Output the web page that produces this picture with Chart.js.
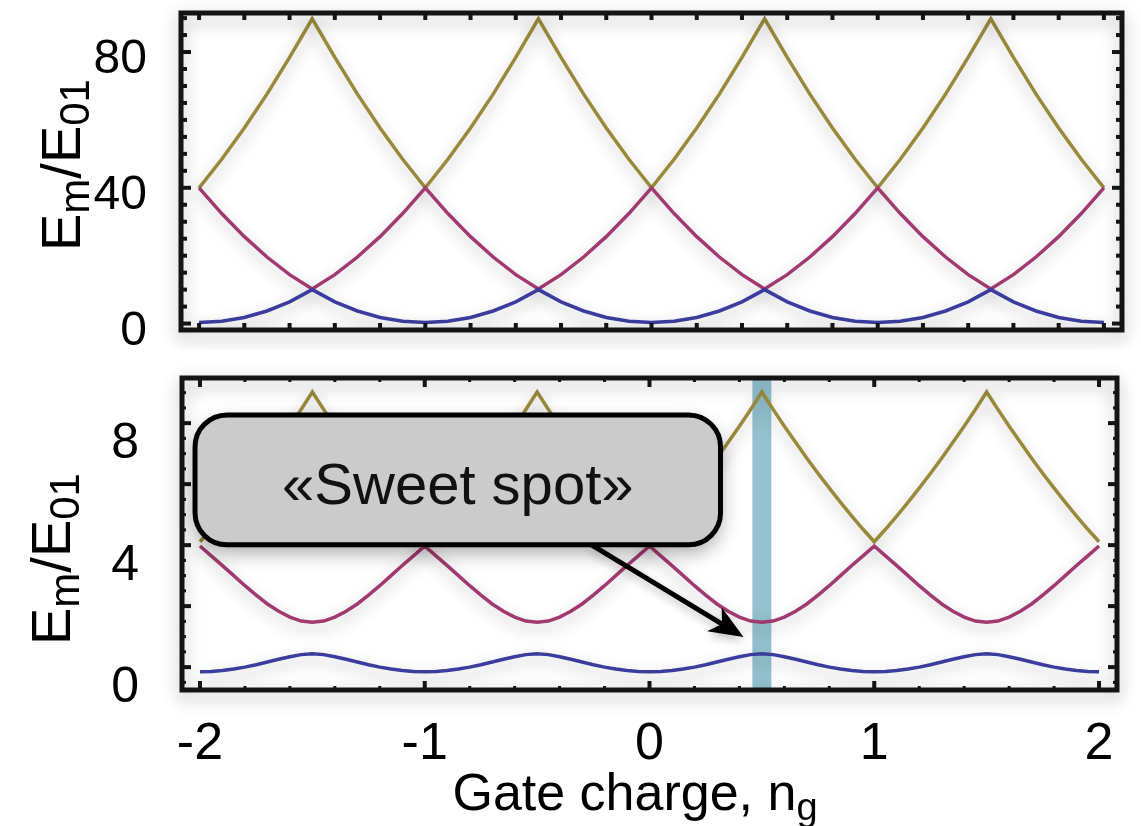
<!DOCTYPE html>
<html>
<head>
<meta charset="utf-8">
<script src="https://cdn.jsdelivr.net/npm/chart.js@4.4.1/dist/chart.umd.min.js"></script>
<style>
  html, body { margin: 0; padding: 0; background: #fff; }
  #wrap { position: relative; width: 1141px; height: 826px; }
  #top { position: absolute; left: 0; top: 0; }
  #bottom { position: absolute; left: 0; top: 350px; }
</style>
</head>
<body>
<div id="wrap">
  <canvas id="top" width="1141" height="350"></canvas>
  <canvas id="bottom" width="1141" height="476"></canvas>
</div>
<script>
// gate charge samples (top panel every 0.1, bottom panel every 0.05)
const ngCoarse = [-2, -1.9, -1.8, -1.7, -1.6, -1.5, -1.4, -1.3, -1.2, -1.1,
  -1, -0.9, -0.8, -0.7, -0.6, -0.5, -0.4, -0.3, -0.2, -0.1,
  0, 0.1, 0.2, 0.3, 0.4, 0.5, 0.6, 0.7, 0.8, 0.9,
  1, 1.1, 1.2, 1.3, 1.4, 1.5, 1.6, 1.7, 1.8, 1.9, 2];

// top panel: charge regime, E_m/E01
const topLevel0 = [0.3, 0.7, 1.8, 3.7, 6.4, 10.0, 6.4, 3.7, 1.8, 0.7,
  0.3, 0.7, 1.8, 3.7, 6.4, 10.0, 6.4, 3.7, 1.8, 0.7,
  0.3, 0.7, 1.8, 3.7, 6.4, 10.0, 6.4, 3.7, 1.8, 0.7,
  0.3, 0.7, 1.8, 3.7, 6.4, 10.0, 6.4, 3.7, 1.8, 0.7, 0.3];
const topLevel1 = [40, 32.4, 25.6, 19.6, 14.4, 10.2, 14.4, 19.6, 25.6, 32.4,
  40, 32.4, 25.6, 19.6, 14.4, 10.2, 14.4, 19.6, 25.6, 32.4,
  40, 32.4, 25.6, 19.6, 14.4, 10.2, 14.4, 19.6, 25.6, 32.4,
  40, 32.4, 25.6, 19.6, 14.4, 10.2, 14.4, 19.6, 25.6, 32.4, 40];
const topLevel2 = [40, 48.4, 57.6, 67.6, 78.4, 89.8, 78.4, 67.6, 57.6, 48.4,
  40, 48.4, 57.6, 67.6, 78.4, 89.8, 78.4, 67.6, 57.6, 48.4,
  40, 48.4, 57.6, 67.6, 78.4, 89.8, 78.4, 67.6, 57.6, 48.4,
  40, 48.4, 57.6, 67.6, 78.4, 89.8, 78.4, 67.6, 57.6, 48.4, 40];

const ngFine = [-2, -1.95, -1.9, -1.85, -1.8, -1.75, -1.7, -1.65, -1.6, -1.55,
  -1.5, -1.45, -1.4, -1.35, -1.3, -1.25, -1.2, -1.15, -1.1, -1.05,
  -1, -0.95, -0.9, -0.85, -0.8, -0.75, -0.7, -0.65, -0.6, -0.55,
  -0.5, -0.45, -0.4, -0.35, -0.3, -0.25, -0.2, -0.15, -0.1, -0.05,
  0, 0.05, 0.1, 0.15, 0.2, 0.25, 0.3, 0.35, 0.4, 0.45,
  0.5, 0.55, 0.6, 0.65, 0.7, 0.75, 0.8, 0.85, 0.9, 0.95,
  1, 1.05, 1.1, 1.15, 1.2, 1.25, 1.3, 1.35, 1.4, 1.45,
  1.5, 1.55, 1.6, 1.65, 1.7, 1.75, 1.8, 1.85, 1.9, 1.95, 2];

// bottom panel: transmon-like regime, E_m/E01
const bottomLevel0 = [0.40, 0.41, 0.44, 0.49, 0.55, 0.63, 0.72, 0.81, 0.89, 0.96,
  0.99, 0.96, 0.89, 0.81, 0.72, 0.63, 0.55, 0.49, 0.44, 0.41,
  0.40, 0.41, 0.44, 0.49, 0.55, 0.63, 0.72, 0.81, 0.89, 0.96,
  0.99, 0.96, 0.89, 0.81, 0.72, 0.63, 0.55, 0.49, 0.44, 0.41,
  0.40, 0.41, 0.44, 0.49, 0.55, 0.63, 0.72, 0.81, 0.89, 0.96,
  0.99, 0.96, 0.89, 0.81, 0.72, 0.63, 0.55, 0.49, 0.44, 0.41,
  0.40, 0.41, 0.44, 0.49, 0.55, 0.63, 0.72, 0.81, 0.89, 0.96,
  0.99, 0.96, 0.89, 0.81, 0.72, 0.63, 0.55, 0.49, 0.44, 0.41, 0.40];
const bottomLevel1 = [4.52, 4.20, 3.88, 3.55, 3.22, 2.91, 2.62, 2.38, 2.19, 2.06,
  2.02, 2.06, 2.19, 2.38, 2.62, 2.91, 3.22, 3.55, 3.88, 4.20,
  4.52, 4.20, 3.88, 3.55, 3.22, 2.91, 2.62, 2.38, 2.19, 2.06,
  2.02, 2.06, 2.19, 2.38, 2.62, 2.91, 3.22, 3.55, 3.88, 4.20,
  4.52, 4.20, 3.88, 3.55, 3.22, 2.91, 2.62, 2.38, 2.19, 2.06,
  2.02, 2.06, 2.19, 2.38, 2.62, 2.91, 3.22, 3.55, 3.88, 4.20,
  4.52, 4.20, 3.88, 3.55, 3.22, 2.91, 2.62, 2.38, 2.19, 2.06,
  2.02, 2.06, 2.19, 2.38, 2.62, 2.91, 3.22, 3.55, 3.88, 4.20, 4.52];
const bottomLevel2 = [4.66, 5.07, 5.50, 5.95, 6.42, 6.90, 7.40, 7.92, 8.45, 9.00,
  9.57, 9.00, 8.45, 7.92, 7.40, 6.90, 6.42, 5.95, 5.50, 5.07,
  4.66, 5.07, 5.50, 5.95, 6.42, 6.90, 7.40, 7.92, 8.45, 9.00,
  9.57, 9.00, 8.45, 7.92, 7.40, 6.90, 6.42, 5.95, 5.50, 5.07,
  4.66, 5.07, 5.50, 5.95, 6.42, 6.90, 7.40, 7.92, 8.45, 9.00,
  9.57, 9.00, 8.45, 7.92, 7.40, 6.90, 6.42, 5.95, 5.50, 5.07,
  4.66, 5.07, 5.50, 5.95, 6.42, 6.90, 7.40, 7.92, 8.45, 9.00,
  9.57, 9.00, 8.45, 7.92, 7.40, 6.90, 6.42, 5.95, 5.50, 5.07, 4.66];

// tick labels
const xTickLabels = [-2, -1, 0, 1, 2];
const topYTickLabels = [0, 40, 80];
const bottomYTickLabels = [0, 4, 8];

// inward tick marks
const xMarks = [-2, -1.8, -1.6, -1.4, -1.2, -1, -0.8, -0.6, -0.4, -0.2, 0,
  0.2, 0.4, 0.6, 0.8, 1, 1.2, 1.4, 1.6, 1.8, 2];
const topYMajorMarks = [0, 40, 80];
const topYMinorMarks = [5, 10, 15, 20, 25, 30, 35, 45, 50, 55, 60, 65, 70, 75, 85, 90];
const bottomYMajorMarks = [0.55, 2.55, 4.55, 6.55, 8.55];
const bottomYMinorMarks = [0.05, 1.05, 1.55, 2.05, 3.05, 3.55, 4.05, 5.05, 5.55,
  6.05, 7.05, 7.55, 8.05, 9.05, 9.55];

const sweetSpot = 0.5;
const calloutText = '«Sweet spot»';

const colors = ['#3c3c9e', '#a13a70', '#988a3a'];
const FONT = '"Liberation Sans", Arial, Helvetica, sans-serif';

function toPoints(xs, ys) {
  return xs.map((x, i) => ({ x: x, y: ys[i] }));
}

function lineSet(xs, ys, color) {
  return {
    data: toPoints(xs, ys),
    borderColor: color,
    borderWidth: 3.5,
    pointRadius: 0,
    tension: 0,
    fill: false
  };
}

// draws E_m / E_01 style text with subscripts
function drawRich(ctx, parts, cx, cy, rotate) {
  ctx.save();
  ctx.translate(cx, cy);
  if (rotate) ctx.rotate(-Math.PI / 2);
  let total = 0;
  parts.forEach(p => {
    ctx.font = p.size + 'px ' + FONT;
    total += ctx.measureText(p.t).width;
  });
  let sx = -total / 2;
  ctx.fillStyle = '#000';
  ctx.textBaseline = 'alphabetic';
  ctx.textAlign = 'left';
  parts.forEach(p => {
    ctx.font = p.size + 'px ' + FONT;
    ctx.fillText(p.t, sx, p.dy);
    sx += ctx.measureText(p.t).width;
  });
  ctx.restore();
}

const yTitleParts = [
  { t: 'E', size: 56, dy: 0 }, { t: 'm', size: 42, dy: 9 },
  { t: '/E', size: 56, dy: 0 }, { t: '01', size: 42, dy: 9 }
];

function setShadow(ctx, a, blur, dy) {
  ctx.shadowColor = 'rgba(0,0,0,' + a + ')';
  ctx.shadowBlur = blur;
  ctx.shadowOffsetX = 0;
  ctx.shadowOffsetY = dy;
}

function panelPlugin(cfg) {
  return {
    id: 'panel',
    beforeDatasetsDraw(chart) {
      const { ctx, chartArea: a, scales: { x } } = chart;
      if (cfg.band) {
        const px = x.getPixelForValue(sweetSpot);
        ctx.save();
        ctx.fillStyle = '#94c2d0';
        ctx.fillRect(px - 9.5, a.top, 19, a.bottom - a.top);
        ctx.restore();
      }
      ctx.save();
      setShadow(ctx, 0.3, 16, 6);
    },
    afterDatasetsDraw(chart) {
      const { ctx, chartArea: a, scales: { x, y } } = chart;
      ctx.restore();
      ctx.save();
      // frame
      setShadow(ctx, 0.32, 18, 6);
      ctx.strokeStyle = '#141414';
      ctx.lineWidth = 5;
      ctx.strokeRect(a.left, a.top, a.right - a.left, a.bottom - a.top);
      ctx.shadowColor = 'transparent';
      ctx.fillStyle = '#141414';
      const xt = (vals, len, w) => vals.forEach(v => {
        const p = x.getPixelForValue(v);
        ctx.fillRect(p - w / 2, a.bottom - len, w, len);
        ctx.fillRect(p - w / 2, a.top, w, len);
      });
      const yt = (vals, len, w) => vals.forEach(v => {
        const p = y.getPixelForValue(v);
        ctx.fillRect(a.left, p - w / 2, len, w);
        ctx.fillRect(a.right - len, p - w / 2, len, w);
      });
      cfg.ticks(xt, yt);
      ctx.restore();
    },
    afterDraw(chart) {
      const { ctx, scales: { x, y } } = chart;
      drawRich(ctx, yTitleParts, cfg.titleX, cfg.titleY, true);
      if (cfg.xTitle) {
        drawRich(ctx, [{ t: 'Gate charge, n', size: 52, dy: 0 }, { t: 'g', size: 38, dy: 10 }],
          635, 460, false);
      }
      if (cfg.callout) {
        const c = cfg.callout;
        // arrow
        const tx = x.getPixelForValue(c.tail[0]), ty = y.getPixelForValue(c.tail[1]);
        const hx = x.getPixelForValue(c.tip[0]), hy = y.getPixelForValue(c.tip[1]);
        const ang = Math.atan2(hy - ty, hx - tx);
        const co = Math.cos(ang), si = Math.sin(ang);
        ctx.save();
        setShadow(ctx, 0.25, 10, 4);
        ctx.strokeStyle = '#000';
        ctx.lineWidth = 5;
        ctx.beginPath();
        ctx.moveTo(tx, ty);
        ctx.lineTo(hx - 22 * co, hy - 22 * si);
        ctx.stroke();
        ctx.fillStyle = '#000';
        ctx.beginPath();
        ctx.moveTo(hx, hy);
        ctx.lineTo(hx - 34 * co + 14 * si, hy - 34 * si - 14 * co);
        ctx.lineTo(hx - 25 * co, hy - 25 * si);
        ctx.lineTo(hx - 34 * co - 14 * si, hy - 34 * si + 14 * co);
        ctx.closePath();
        ctx.fill();
        ctx.restore();
        // box
        const bx0 = x.getPixelForValue(c.box[0]), bx1 = x.getPixelForValue(c.box[1]);
        const by0 = y.getPixelForValue(c.box[3]), by1 = y.getPixelForValue(c.box[2]);
        ctx.save();
        setShadow(ctx, 0.35, 20, 8);
        ctx.beginPath();
        ctx.roundRect(bx0, by0, bx1 - bx0, by1 - by0, 32);
        ctx.fillStyle = '#cbcbcb';
        ctx.fill();
        ctx.shadowColor = 'transparent';
        ctx.lineWidth = 5;
        ctx.strokeStyle = '#000';
        ctx.stroke();
        ctx.fillStyle = '#111';
        ctx.font = '58px ' + FONT;
        ctx.textAlign = 'center';
        ctx.textBaseline = 'alphabetic';
        ctx.fillText(calloutText, (bx0 + bx1) / 2, (by0 + by1) / 2 + 24);
        ctx.restore();
      }
    }
  };
}

// fixed axis widths so the plot frames land where the reference has them
function fixWidth(w) {
  return function (scale) {
    scale.width = w;
    scale.paddingTop = 0;
    scale.paddingBottom = 0;
  };
}

// top panel
new Chart(document.getElementById('top'), {
  type: 'line',
  data: {
    datasets: [
      lineSet(ngCoarse, topLevel0, colors[0]),
      lineSet(ngCoarse, topLevel1, colors[1]),
      lineSet(ngCoarse, topLevel2, colors[2])
    ]
  },
  options: {
    responsive: false,
    devicePixelRatio: 1,
    animation: false,
    layout: { padding: { left: 0, right: 19, top: 13, bottom: 20 } },
    plugins: { legend: { display: false }, tooltip: { enabled: false } },
    scales: {
      x: {
        type: 'linear', min: -2.08, max: 2.08, display: false
      },
      y: {
        type: 'linear', min: -1.9, max: 91.5,
        grid: { display: false }, border: { display: false },
        afterFit: fixWidth(181),
        afterBuildTicks: s => { s.ticks = topYTickLabels.map(v => ({ value: v })); },
        ticks: { color: '#000', padding: 26, labelOffset: 8, font: { family: FONT, size: 48 } }
      }
    }
  },
  plugins: [panelPlugin({
    titleX: 80, titleY: 165,
    ticks: (xt, yt) => {
      xt(xMarks, 7, 4);
      yt(topYMajorMarks, 10, 4);
      yt(topYMinorMarks, 6, 4);
    }
  })]
});

// bottom panel
new Chart(document.getElementById('bottom'), {
  type: 'line',
  data: {
    datasets: [
      lineSet(ngFine, bottomLevel0, colors[0]),
      lineSet(ngFine, bottomLevel1, colors[1]),
      lineSet(ngFine, bottomLevel2, colors[2])
    ]
  },
  options: {
    responsive: false,
    devicePixelRatio: 1,
    animation: false,
    layout: { padding: { left: 0, right: 24, top: 28, bottom: 0 } },
    plugins: { legend: { display: false }, tooltip: { enabled: false } },
    scales: {
      x: {
        type: 'linear', min: -2.08, max: 2.08,
        grid: { display: false }, border: { display: false },
        afterFit: s => { s.height = 136; s.paddingLeft = 0; s.paddingRight = 0; },
        afterBuildTicks: s => { s.ticks = xTickLabels.map(v => ({ value: v })); },
        ticks: { color: '#000', padding: 15, maxRotation: 0, font: { family: FONT, size: 52 } }
      },
      y: {
        type: 'linear', min: -0.2, max: 10.03,
        grid: { display: false }, border: { display: false },
        afterFit: fixWidth(182),
        afterBuildTicks: s => { s.ticks = bottomYTickLabels.map(v => ({ value: v })); },
        ticks: { color: '#000', padding: 35, labelOffset: 4, font: { family: FONT, size: 50 } }
      }
    }
  },
  plugins: [panelPlugin({
    titleX: 70, titleY: 209,
    band: true,
    xTitle: true,
    callout: { box: [-2.022, 0.316, 4.56, 8.82], tail: [-0.258, 4.56], tip: [0.418, 1.54] },
    ticks: (xt, yt) => {
      xt(xTickLabels, 9, 4);
      xt(xMarks, 4, 3);
      yt(bottomYMajorMarks, 9, 4);
      yt(bottomYMinorMarks, 4, 3);
    }
  })]
});
</script>
</body>
</html>
